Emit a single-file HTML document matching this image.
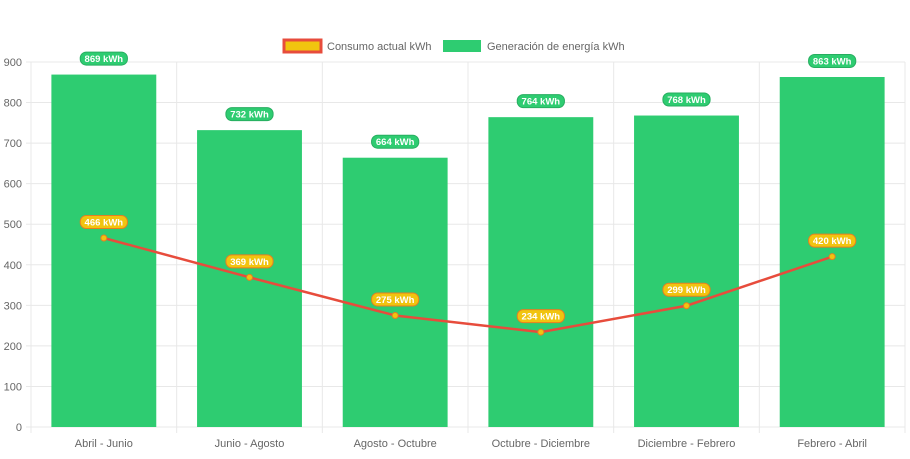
<!DOCTYPE html>
<html><head><meta charset="utf-8"><style>
body{margin:0;background:#fff;font-family:"Liberation Sans",Arial,sans-serif;}
svg text{font-family:"Liberation Sans",Arial,sans-serif;}
</style></head><body>
<svg id="c" width="910" height="454">
<g id="legend">
<g>
<rect x="284" y="40" width="37" height="12" fill="#f1c40f" stroke="#e74c3c" stroke-width="3"/>
<text x="327" y="50" font-size="11" fill="#666">Consumo actual kWh</text></g>
<g>
<rect x="443" y="40" width="38" height="12" fill="#2ecc71"/>
<text x="487" y="50" font-size="11" fill="#666">Generación de energía kWh</text></g>
</g>
</svg>
<script>
const categories=["Abril - Junio","Junio - Agosto","Agosto - Octubre","Octubre - Diciembre","Diciembre - Febrero","Febrero - Abril"];
const generacion=[869,732,664,764,768,863];
const consumo=[466,369,275,234,299,420];
const yTicks=[0,100,200,300,400,500,600,700,800,900];
const NS="http://www.w3.org/2000/svg";
const svg=document.getElementById('c');
const L=31,R=905,T=62,B=427,YMAX=900;
const cw=(R-L)/categories.length;
const y=v=>B-(v/YMAX)*(B-T);
const xc=i=>L+cw*(i+0.5);
function mk(t,a,p){const e=document.createElementNS(NS,t);for(const k in a)e.setAttribute(k,a[k]);(p||svg).appendChild(e);return e;}
const grid=mk('g',{});


yTicks.forEach(v=>{
 mk('line',{x1:L-5,x2:R,y1:y(v),y2:y(v),stroke:'#e8e8e8'},grid);
 const t=mk('text',{x:L-9,y:y(v)+4,'text-anchor':'end','font-size':11,fill:'#666'},grid);t.textContent=v;
 
 
});
for(let i=0;i<=categories.length;i++){mk('line',{x1:L+cw*i,x2:L+cw*i,y1:T,y2:B+6,stroke:'#e8e8e8'},grid);}
categories.forEach((c,i)=>{
 const t=mk('text',{x:xc(i),y:447,'text-anchor':'middle','font-size':11,fill:'#666'});t.textContent=c;
 
 
});
const bw=cw*0.72;
function pill(cx,cy,txt,fill,stroke){
 const g=mk('g',{});
 
 
 const w=txt.length*5.6+8;
 mk('rect',{x:cx-w/2,y:cy-6.5,width:w,height:13,rx:6,fill:fill,stroke:stroke,'stroke-width':1},g);
 const t=mk('text',{x:cx,y:cy+3.5,'text-anchor':'middle','font-size':9.5,'font-weight':'bold',fill:'#fff'},g);t.textContent=txt;
}
generacion.forEach((v,i)=>{
 const r=mk('rect',{x:xc(i)-bw/2,y:y(v),width:bw,height:B-y(v),fill:'#2ecc71'});
 
 
});
const pts=consumo.map((v,i)=>xc(i)+','+y(v)).join(' ');
const line=mk('polyline',{points:pts,fill:'none',stroke:'#e74c3c','stroke-width':2.5});


consumo.forEach((v,i)=>{
 const p=mk('circle',{cx:xc(i),cy:y(v),r:3,fill:'#f1c40f',stroke:'#e67e22','stroke-width':1});
 
 
});
generacion.forEach((v,i)=>pill(xc(i),y(v)-16,v+' kWh','#2ecc71','#27ae60'));
consumo.forEach((v,i)=>pill(xc(i),y(v)-16,v+' kWh','#f1c40f','#e67e22'));
svg.appendChild(document.getElementById('legend'));
</script>
</body></html>
